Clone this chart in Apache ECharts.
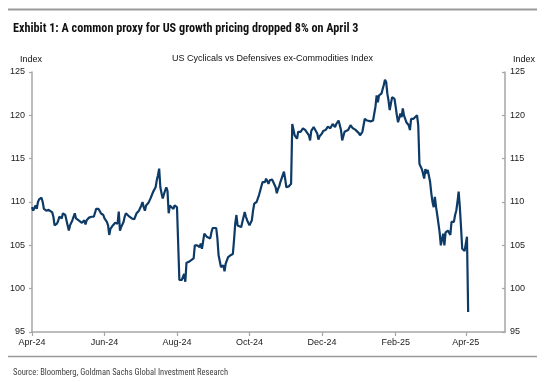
<!DOCTYPE html>
<html>
<head>
<meta charset="utf-8">
<script src="https://cdn.jsdelivr.net/npm/echarts@6/dist/echarts.min.js"></script>
<style>
  html, body { margin: 0; padding: 0; background: #fff; }
  #chart { width: 545px; height: 382px; }
</style>
</head>
<body>
<div id="chart"></div>
<script>
// ---- Data ----
const dates = [
  '2024-04-01','2024-04-02','2024-04-04','2024-04-05','2024-04-06','2024-04-07','2024-04-09','2024-04-10','2024-04-11','2024-04-13',
  '2024-04-15','2024-04-16','2024-04-18','2024-04-19','2024-04-20','2024-04-21','2024-04-22','2024-04-23','2024-04-24','2024-04-26',
  '2024-04-27','2024-04-29','2024-04-30','2024-05-01','2024-05-02','2024-05-03','2024-05-05','2024-05-07','2024-05-08','2024-05-09',
  '2024-05-10','2024-05-11','2024-05-13','2024-05-15','2024-05-16','2024-05-17','2024-05-19','2024-05-21','2024-05-23','2024-05-25',
  '2024-05-27','2024-05-28','2024-05-29','2024-05-31','2024-06-01','2024-06-03','2024-06-04','2024-06-05','2024-06-06','2024-06-07',
  '2024-06-08','2024-06-10','2024-06-12','2024-06-13','2024-06-14','2024-06-15','2024-06-17','2024-06-18','2024-06-19','2024-06-22',
  '2024-06-24','2024-06-26','2024-06-27','2024-06-28','2024-06-30','2024-07-01','2024-07-02','2024-07-03','2024-07-04','2024-07-05',
  '2024-07-06','2024-07-08','2024-07-09','2024-07-10','2024-07-11','2024-07-12','2024-07-14','2024-07-15','2024-07-16','2024-07-17',
  '2024-07-18','2024-07-19','2024-07-20','2024-07-21','2024-07-23','2024-07-24','2024-07-25','2024-07-26','2024-07-27','2024-07-29',
  '2024-07-30','2024-07-31','2024-08-01','2024-08-03','2024-08-04','2024-08-05','2024-08-06','2024-08-07','2024-08-08','2024-08-09',
  '2024-08-11','2024-08-12','2024-08-13','2024-08-15','2024-08-16','2024-08-18','2024-08-19','2024-08-20','2024-08-21','2024-08-22',
  '2024-08-24','2024-08-25','2024-08-26','2024-08-27','2024-08-29','2024-08-30','2024-08-31','2024-09-01','2024-09-03','2024-09-04',
  '2024-09-05','2024-09-06','2024-09-07','2024-09-08','2024-09-09','2024-09-10','2024-09-11','2024-09-13','2024-09-15','2024-09-17',
  '2024-09-18','2024-09-19','2024-09-20','2024-09-21','2024-09-22','2024-09-24','2024-09-25','2024-09-26','2024-09-27','2024-09-28',
  '2024-09-29','2024-09-30','2024-10-01','2024-10-03','2024-10-04','2024-10-05','2024-10-07','2024-10-08','2024-10-09','2024-10-10',
  '2024-10-12','2024-10-13','2024-10-14','2024-10-15','2024-10-17','2024-10-18','2024-10-20','2024-10-21','2024-10-23','2024-10-24',
  '2024-10-25','2024-10-26','2024-10-27','2024-10-28','2024-10-30','2024-10-31','2024-11-01','2024-11-02','2024-11-03','2024-11-04',
  '2024-11-05','2024-11-06','2024-11-08','2024-11-10','2024-11-11','2024-11-13','2024-11-14','2024-11-15','2024-11-17','2024-11-18',
  '2024-11-20','2024-11-21','2024-11-22','2024-11-24','2024-11-25','2024-11-27','2024-11-28','2024-11-29','2024-12-01','2024-12-02',
  '2024-12-04','2024-12-05','2024-12-06','2024-12-08','2024-12-09','2024-12-10','2024-12-11','2024-12-12','2024-12-13','2024-12-15',
  '2024-12-16','2024-12-17','2024-12-18','2024-12-20','2024-12-21','2024-12-23','2024-12-25','2024-12-26','2024-12-27','2024-12-29',
  '2024-12-30','2025-01-01','2025-01-02','2025-01-04','2025-01-05','2025-01-06','2025-01-08','2025-01-11','2025-01-13','2025-01-15',
  '2025-01-16','2025-01-17','2025-01-18','2025-01-19','2025-01-20','2025-01-22','2025-01-23','2025-01-24','2025-01-25','2025-01-26',
  '2025-01-27','2025-01-29','2025-01-30','2025-01-31','2025-02-01','2025-02-02','2025-02-03','2025-02-05','2025-02-06','2025-02-07',
  '2025-02-08','2025-02-09','2025-02-10','2025-02-12','2025-02-13','2025-02-14','2025-02-16','2025-02-17','2025-02-19','2025-02-20',
  '2025-02-21','2025-02-22','2025-02-23','2025-02-24','2025-02-25','2025-02-26','2025-02-27','2025-02-28','2025-03-01','2025-03-02',
  '2025-03-03','2025-03-04','2025-03-05','2025-03-06','2025-03-07','2025-03-08','2025-03-09','2025-03-10','2025-03-11','2025-03-12',
  '2025-03-13','2025-03-14','2025-03-15','2025-03-16','2025-03-17','2025-03-18','2025-03-19','2025-03-20','2025-03-21','2025-03-22',
  '2025-03-23','2025-03-24','2025-03-25','2025-03-26','2025-03-27','2025-03-28','2025-03-29','2025-03-30','2025-03-31','2025-04-01',
  '2025-04-02','2025-04-03'
];
const values = [
  109.4,109.0,109.6,109.2,110.0,110.3,110.5,110.0,109.2,109.0,
  109.1,109.0,108.8,108.3,107.3,107.1,107.5,107.8,108.3,108.1,
  108.7,108.5,108.3,107.3,106.7,107.3,107.9,108.7,108.1,108.3,
  107.9,107.9,107.6,107.9,107.4,107.9,108.2,108.3,108.3,109.2,
  109.2,109.2,108.7,108.5,108.1,107.7,107.3,106.2,106.9,106.7,
  107.3,107.6,107.5,108.9,106.7,107.1,107.7,108.3,108.7,108.3,
  108.1,108.0,108.1,108.7,109.0,109.0,109.6,110.0,109.4,109.0,
  109.6,109.9,110.1,110.5,110.7,111.2,111.7,112.5,113.1,113.85,
  111.7,111.0,110.4,110.9,111.7,111.3,108.7,109.6,109.4,109.2,
  109.6,109.4,109.4,101.0,101.0,101.0,101.2,101.7,100.8,103.0,
  103.1,102.9,103.3,103.5,105.0,105.0,105.2,104.8,105.2,104.6,
  106.35,106.2,106.0,106.2,105.8,106.5,107.0,107.0,107.0,105.8,
  103.85,103.7,102.5,102.3,102.7,102.0,102.9,103.65,103.85,104.0,
  105.6,107.5,108.5,107.3,107.5,107.1,107.7,107.5,108.85,108.3,
  107.9,107.7,107.3,107.9,109.0,109.8,110.0,110.2,110.8,111.3,
  112.3,112.5,112.3,112.7,112.1,112.5,112.6,112.3,111.7,111.0,
  111.5,111.8,112.3,112.7,113.5,112.7,111.7,111.9,111.8,111.9,
  112.1,119.0,117.7,117.3,118.1,118.1,118.3,118.5,118.3,118.1,
  117.7,117.1,118.2,118.65,118.85,117.9,117.2,117.6,117.9,118.2,
  118.3,118.5,118.7,118.5,118.3,119.0,119.2,118.65,119.0,119.4,
  119.6,118.3,117.1,118.1,118.3,118.3,118.85,119.0,118.5,118.35,
  118.35,117.95,117.7,118.1,118.85,119.6,119.4,119.3,119.4,121.0,
  122.3,121.5,122.3,122.3,122.5,123.5,124.1,123.85,122.5,121.7,
  120.6,122.1,122.3,121.9,121.0,120.0,119.2,120.2,119.8,120.8,
  120.0,119.8,119.2,118.85,118.3,119.6,119.6,119.7,120.0,118.85,
  114.4,114.1,113.8,113.3,112.7,113.8,113.3,113.7,113.8,112.3,
  111.0,110.0,109.4,110.6,109.4,108.5,107.5,106.5,105.0,104.9,
  106.35,105.0,106.5,106.5,106.7,106.7,106.2,107.7,107.5,107.7,
  108.5,109.0,110.0,111.2,109.4,107.1,104.6,104.4,104.35,104.2,
  106.0,97.3
];
const tickDates  = ['2024-04-01','2024-06-01','2024-08-01','2024-10-01','2024-12-01','2025-02-01','2025-04-01'];
const tickLabels = ['Apr-24','Jun-24','Aug-24','Oct-24','Dec-24','Feb-25','Apr-25'];
const xMin = '2024-04-01';
const xMax = '2025-05-04';
const yMin = 95, yMax = 125, yStep = 5;

const titleText = 'Exhibit 1: A common proxy for US growth pricing dropped 8% on April 3';
const chartName = 'US Cyclicals vs Defensives ex-Commodities Index';
const sourceText = 'Source: Bloomberg, Goldman Sachs Global Investment Research';

// ---- Chart ----
const toTs = s => Date.parse(s + 'T00:00:00Z');
const tickTs = tickDates.map(toTs);
const seriesData = dates.map((d, i) => [toTs(d), values[i]]);

const narrow = '"Liberation Sans Narrow", "Arial Narrow", "Roboto Condensed", "Liberation Sans", sans-serif';
const sans = '"Liberation Sans", Arial, sans-serif';
const axisGray = '#a6a6a6';
const labelColor = '#1a1a1a';

const chart = echarts.init(document.getElementById('chart'), null, { renderer: 'canvas' });
chart.setOption({
  animation: false,
  backgroundColor: '#ffffff',
  title: [
    { text: titleText, left: 8, top: 18, textStyle: { fontFamily: narrow, fontWeight: 'bold', fontSize: 12.2, color: '#111' } },
    { text: chartName, left: 'center', top: 49, textStyle: { fontFamily: sans, fontWeight: 'normal', fontSize: 9, color: '#111' } },
    { text: 'Index', left: 15, top: 50, textStyle: { fontFamily: sans, fontWeight: 'normal', fontSize: 9, color: '#111' } },
    { text: 'Index', left: 508, top: 50, textStyle: { fontFamily: sans, fontWeight: 'normal', fontSize: 9, color: '#111' } },
    { text: sourceText, left: 8, top: 363, textStyle: { fontFamily: narrow, fontWeight: 'normal', fontSize: 8.5, color: '#444' } }
  ],
  graphic: [
    { type: 'line', shape: { x1: 8, y1: 9.5, x2: 537, y2: 9.5 }, style: { stroke: '#9a9a9a', lineWidth: 2 } },
    { type: 'line', shape: { x1: 8, y1: 356.5, x2: 537, y2: 356.5 }, style: { stroke: '#9a9a9a', lineWidth: 1.5 } }
  ],
  grid: { left: 32, right: 40, top: 72, bottom: 50, containLabel: false },
  xAxis: {
    type: 'value',
    min: toTs(xMin),
    max: toTs(xMax),
    splitLine: { show: false },
    axisLine: { show: true, lineStyle: { color: axisGray, width: 1.5 } },
    axisTick: { show: true, customValues: tickTs, length: 4, lineStyle: { color: axisGray, width: 1.2 } },
    axisLabel: {
      customValues: tickTs,
      formatter: v => { const i = tickTs.indexOf(v); return i >= 0 ? tickLabels[i] : ''; },
      fontFamily: sans, fontSize: 9, color: labelColor, margin: 6
    }
  },
  yAxis: [
    {
      type: 'value', position: 'left', min: yMin, max: yMax, interval: yStep,
      splitLine: { show: false },
      axisLine: { show: true, lineStyle: { color: axisGray, width: 1.5 } },
      axisTick: { show: true, length: 3, lineStyle: { color: axisGray, width: 1.2 } },
      axisLabel: { fontFamily: sans, fontSize: 9, color: labelColor, margin: 7 }
    },
    {
      type: 'value', position: 'right', min: yMin, max: yMax, interval: yStep,
      splitLine: { show: false },
      axisLine: { show: true, lineStyle: { color: axisGray, width: 1.5 } },
      axisTick: { show: true, inside: true, length: 3, lineStyle: { color: axisGray, width: 1.2 } },
      axisLabel: { fontFamily: sans, fontSize: 9, color: labelColor, margin: 5 }
    }
  ],
  series: [{
    type: 'line',
    yAxisIndex: 0,
    data: seriesData,
    showSymbol: false,
    symbol: 'none',
    lineStyle: { color: '#0d3a66', width: 2.2 },
    z: 3
  }]
});
</script>
</body>
</html>
